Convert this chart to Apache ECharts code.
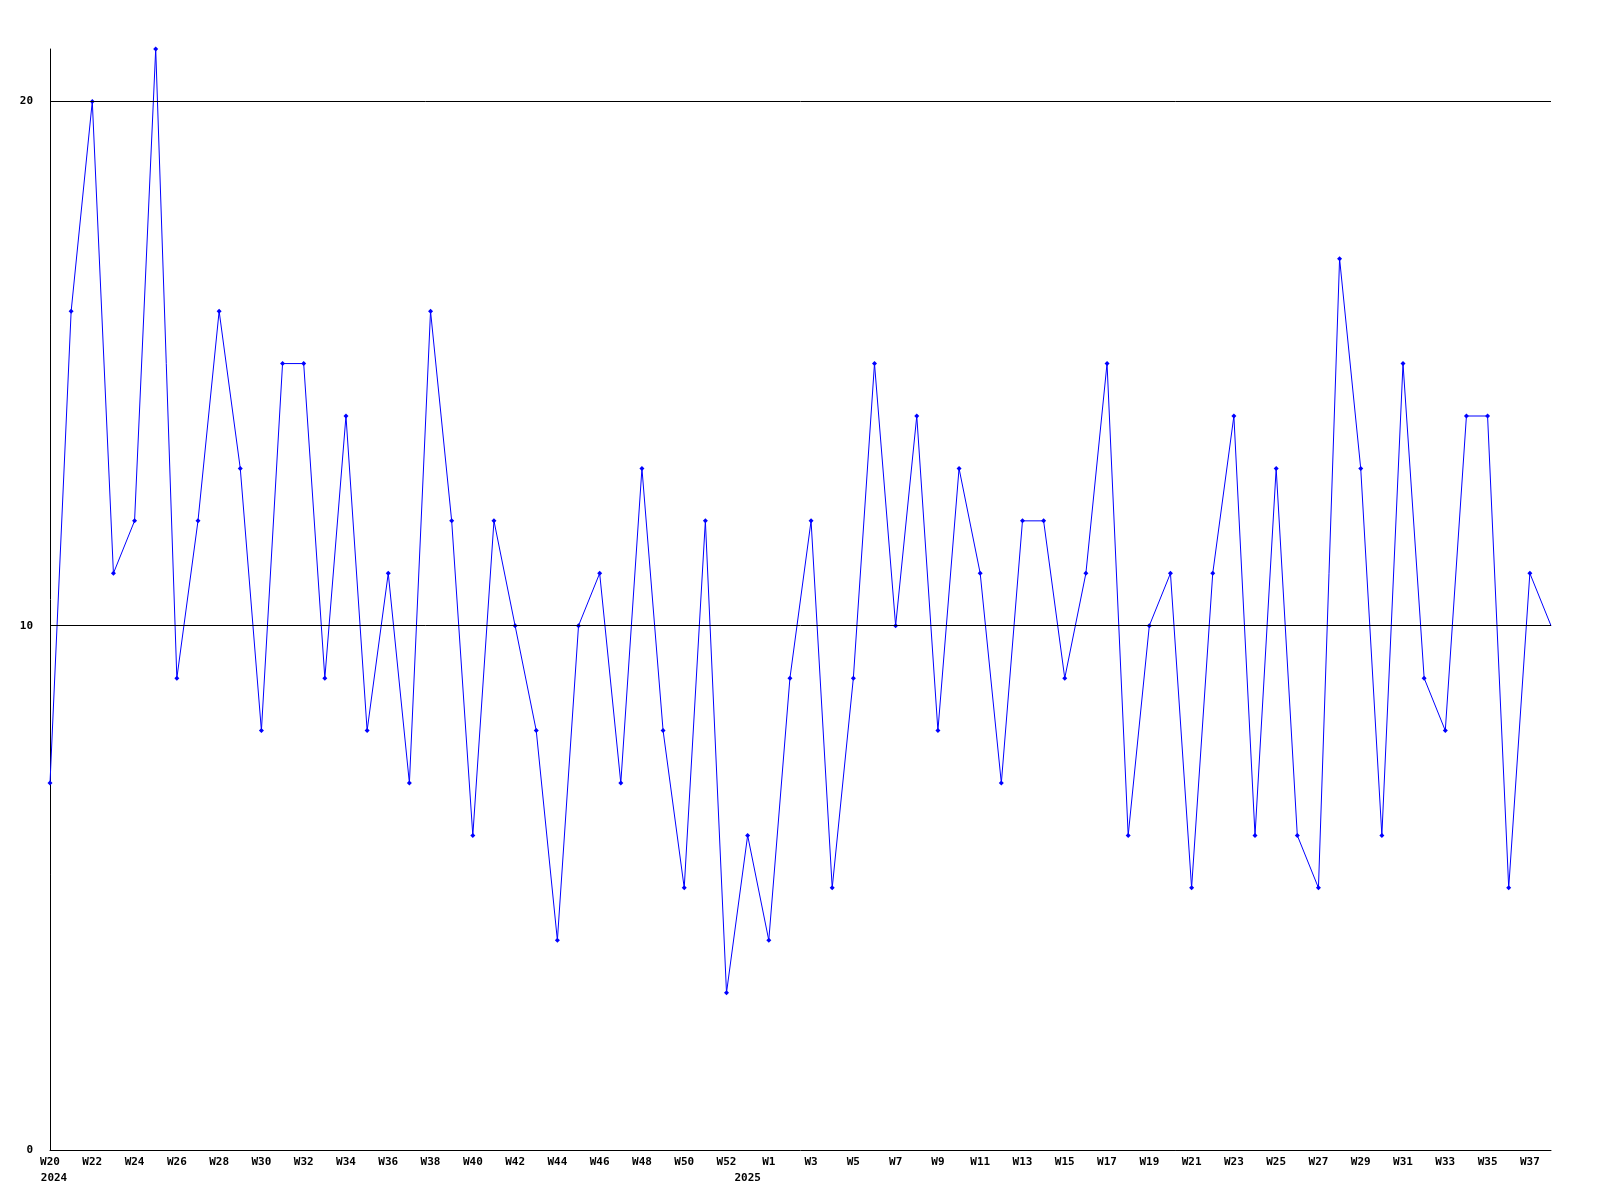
<!DOCTYPE html>
<html>
<head>
<meta charset="utf-8">
<script src="https://cdn.jsdelivr.net/npm/echarts@6/dist/echarts.min.js"></script>
<style>html,body{margin:0;padding:0;background:#fff}#c{width:1600px;height:1200px}</style>
</head>
<body>
<div id="c"></div>
<script>
const weeks2024 = ["W20","W21","W22","W23","W24","W25","W26","W27","W28","W29","W30","W31","W32","W33","W34","W35","W36","W37","W38","W39","W40","W41","W42","W43","W44","W45","W46","W47","W48","W49","W50","W51","W52","W53"];
const weeks2025 = ["W1","W2","W3","W4","W5","W6","W7","W8","W9","W10","W11","W12","W13","W14","W15","W16","W17","W18","W19","W20","W21","W22","W23","W24","W25","W26","W27","W28","W29","W30","W31","W32","W33","W34","W35","W36","W37","W38"];
const values = [7,16,20,11,12,21,9,12,16,13, 8,15,15,9,14,8,11,7,16,12, 6,12,10,8,4,10,11,7,13,8, 5,12,3,6,4,9,12,5,9,15, 10,14,8,13,11,7,12,12,9,11, 15,6,10,11,5,11,14,6,13,6, 5,17,13,6,15,9,8,14,14,5, 11,10];
const yearLabels = {0: "2024", 33: "2025"};
const yTicks = [0, 10, 20];

const categories = weeks2024.concat(weeks2025);
const font = '"DejaVu Sans Mono", "Liberation Mono", monospace';
const chart = echarts.init(document.getElementById('c'));
chart.setOption({
  animation: false,
  grid: {left: 50, right: 49, top: 49, bottom: 50},
  xAxis: [{
    type: 'category', data: categories, boundaryGap: false,
    axisLine: {lineStyle: {color: '#000', width: 1}},
    axisTick: {show: false},
    splitLine: {show: false},
    axisLabel: {interval: 1, color: '#000', fontFamily: font, fontWeight: 'bold', fontSize: 11, margin: 7}
  }, {
    type: 'category', data: categories, boundaryGap: false, position: 'bottom', offset: 16,
    axisLine: {show: false}, axisTick: {show: false}, splitLine: {show: false},
    axisLabel: {
      interval: (i) => yearLabels[i] !== undefined,
      formatter: (v, i) => i === 0 ? '{p|' + yearLabels[i] + '}' : (yearLabels[i] || ''),
      rich: {p: {padding: [0, 0, 0, 8], fontFamily: font, fontWeight: 'bold', fontSize: 11, color: '#000'}},
      color: '#000', fontFamily: font, fontWeight: 'bold', fontSize: 11, margin: 7
    }
  }],
  yAxis: {
    type: 'value', min: 0, max: 21, interval: 10,
    axisLine: {show: true, lineStyle: {color: '#000', width: 1}},
    axisTick: {show: false},
    splitLine: {show: false},
    axisLabel: {
      color: '#000', fontFamily: font, fontWeight: 'bold', fontSize: 11, margin: 17,
      showMaxLabel: false,
      formatter: (v) => yTicks.indexOf(v) >= 0 ? String(v) : ''
    }
  },
  series: [{
    type: 'line', xAxisIndex: 0,
    data: values.map((v, i) => i === values.length - 1 ? {value: v, symbolSize: 0} : v),
    symbol: 'diamond', symbolSize: 5, showAllSymbol: true,
    lineStyle: {color: '#0000ff', width: 1},
    itemStyle: {color: '#0000ff', borderWidth: 0},
    emphasis: {disabled: true},
    markLine: {
      silent: true, symbol: 'none', animation: false,
      label: {show: false},
      lineStyle: {color: '#000', width: 1, type: 'solid'},
      data: yTicks.filter((t) => t > 0).map((t) => ({yAxis: t}))
    },
    z: 3
  }]
});
</script>
</body>
</html>
